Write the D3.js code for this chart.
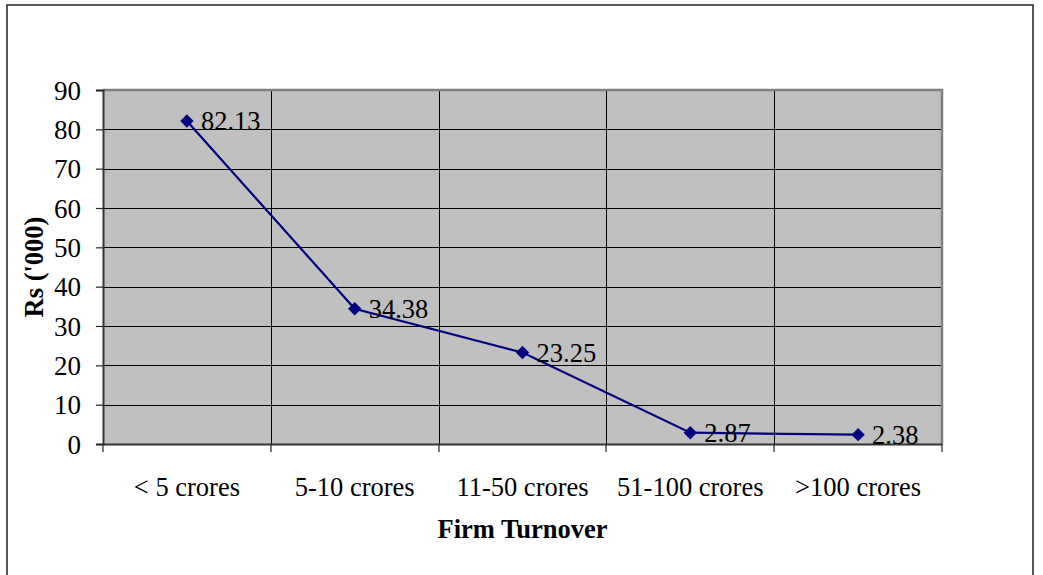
<!DOCTYPE html>
<html>
<head>
<meta charset="utf-8">
<script src="https://cdn.jsdelivr.net/npm/d3@7"></script>
<style>
html,body{margin:0;padding:0;background:#fff;}
svg{display:block;}
text{font-family:"Liberation Serif","Times New Roman",serif;fill:#000;}
</style>
</head>
<body>
<svg id="chart" width="1043" height="575"></svg>
<script>
const categories = ["< 5 crores", "5-10 crores", "11-50 crores", "51-100 crores", ">100 crores"];
const values = [82.13, 34.38, 23.25, 2.87, 2.38];
const labels = ["82.13", "34.38", "23.25", "2.87", "2.38"];
const yTicks = [0, 10, 20, 30, 40, 50, 60, 70, 80, 90];
const xTitle = "Firm Turnover";
const yTitle = "Rs ('000)";

const svg = d3.select("#chart");
const plot = {left: 103, right: 942, top: 90, bottom: 444};

// outer border
svg.append("rect").attr("x", 7).attr("y", 5).attr("width", 1026).attr("height", 600)
  .attr("fill", "#fff").attr("stroke", "#222").attr("stroke-width", 1.5);

const x = d3.scaleBand().domain(categories).range([plot.left, plot.right]).paddingInner(0).paddingOuter(0);
const y = d3.scaleLinear().domain([0, 90]).range([plot.bottom, plot.top]);

// plot background
svg.append("rect").attr("x", plot.left).attr("y", plot.top)
  .attr("width", plot.right - plot.left).attr("height", plot.bottom - plot.top)
  .attr("fill", "#C0C0C0");

// horizontal gridlines
svg.append("g").selectAll("line").data(yTicks.filter(d => d > 0 && d < 90)).join("line")
  .attr("x1", plot.left).attr("x2", plot.right)
  .attr("y1", d => Math.round(y(d)) + 0.5).attr("y2", d => Math.round(y(d)) + 0.5)
  .attr("stroke", "#000").attr("stroke-width", 1);

// vertical gridlines at category boundaries
const bounds = categories.slice(1).map(c => x(c));
svg.append("g").selectAll("line").data(bounds).join("line")
  .attr("x1", d => Math.round(d) + 0.5).attr("x2", d => Math.round(d) + 0.5)
  .attr("y1", plot.top).attr("y2", plot.bottom)
  .attr("stroke", "#000").attr("stroke-width", 1);

// plot border top/right (gray)
svg.append("path")
  .attr("d", `M${plot.left},${plot.top} H${plot.right} V${plot.bottom}`)
  .attr("fill", "none").attr("stroke", "#808080").attr("stroke-width", 2.5);

// Y axis
const yAxis = d3.axisLeft(y).tickValues(yTicks).tickSize(7).tickPadding(15).tickFormat(d3.format("d"));
const gy = svg.append("g").attr("transform", `translate(${plot.left},0)`).call(yAxis);
gy.select(".domain").attr("stroke", "#333").attr("stroke-width", 2);
gy.selectAll(".tick line").attr("stroke", "#222").attr("stroke-width", 1.2);
gy.selectAll(".tick text").attr("font-size", 27).attr("fill", "#000").attr("dy", "0.34em");

// X axis
const xAxis = d3.axisBottom(x).tickSize(0).tickPadding(0);
const gx = svg.append("g").attr("transform", `translate(0,${plot.bottom})`).call(xAxis);
gx.select(".domain").attr("stroke", "#333").attr("stroke-width", 2);
gx.selectAll(".tick text").attr("font-size", 26.5).attr("fill", "#000")
  .attr("y", 52).attr("dy", 0);
// boundary tick marks
const allBounds = categories.map(c => x(c)).concat([x(categories[categories.length - 1]) + x.bandwidth()]);
gx.append("g").selectAll("line").data(allBounds).join("line")
  .attr("x1", d => Math.round(d)).attr("x2", d => Math.round(d))
  .attr("y1", 0).attr("y2", 8).attr("stroke", "#222").attr("stroke-width", 1.2);

// line
const cx = c => x(c) + x.bandwidth() / 2;
const pts = categories.map((c, i) => [cx(c), y(values[i])]);
svg.append("path").datum(pts)
  .attr("d", d3.line())
  .attr("fill", "none").attr("stroke", "#000080").attr("stroke-width", 2.2);

// markers
svg.append("g").selectAll("path").data(pts).join("path")
  .attr("d", d3.symbol().type(d3.symbolDiamond2).size(115))
  .attr("transform", d => `translate(${d[0]},${d[1]})`)
  .attr("fill", "#000080");

// data labels
svg.append("g").selectAll("text").data(pts).join("text")
  .attr("x", d => d[0] + 14).attr("y", d => d[1])
  .attr("dy", "0.35em").attr("font-size", 26.5)
  .text((d, i) => labels[i]);

// axis titles
svg.append("text").attr("x", (plot.left + plot.right) / 2).attr("y", 538)
  .attr("text-anchor", "middle").attr("font-size", 26.5).attr("font-weight", "bold").text(xTitle);
svg.append("text").attr("transform", `translate(43,${(plot.top + plot.bottom) / 2}) rotate(-90)`)
  .attr("text-anchor", "middle").attr("font-size", 26.5).attr("font-weight", "bold").text(yTitle);
</script>
</body>
</html>
